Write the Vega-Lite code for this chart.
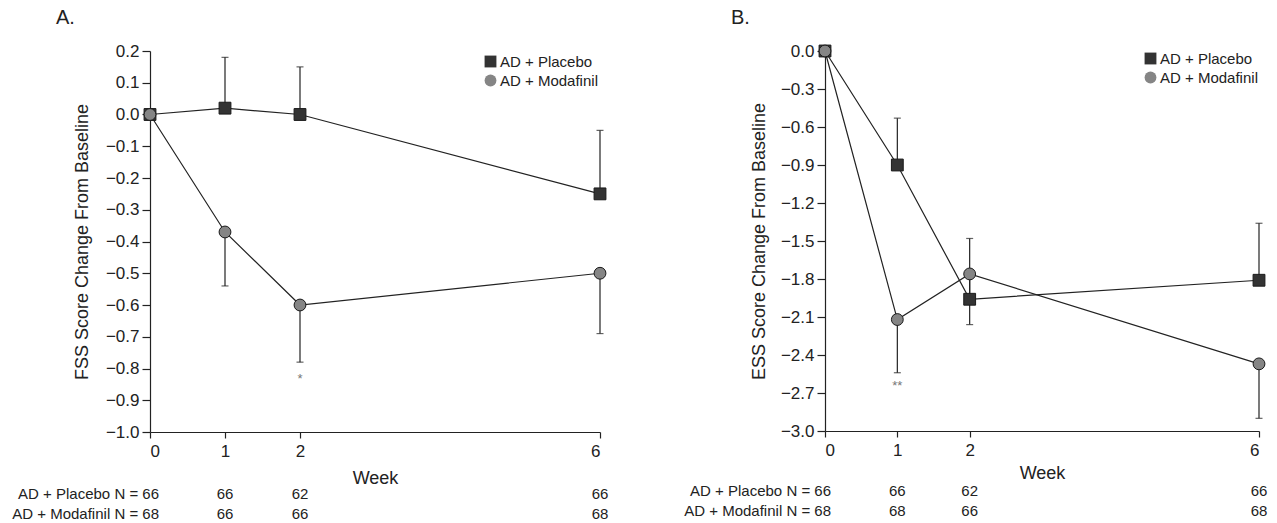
{
  "$schema": "https://vega.github.io/schema/vega-lite/v6.json",
  "padding": {"left": 12, "top": 8, "right": 4, "bottom": 2},
  "config": {
    "font": "Liberation Sans",
    "view": {"stroke": null},
    "axis": {"grid": false, "domainColor": "#222", "tickColor": "#222", "labelColor": "#222", "titleColor": "#222", "labelFontSize": 17, "titleFontSize": 18, "titleFontWeight": "normal", "domainWidth": 1.2, "tickWidth": 1.2, "labelOverlap": false},
    "legend": {"labelFontSize": 15, "labelColor": "#222", "symbolSize": 140, "rowPadding": 2, "labelOffset": 2, "padding": 0, "symbolStrokeColor": "#1a1a1a", "symbolStrokeWidth": 1},
    "title": {"fontSize": 20, "fontWeight": "normal", "color": "#222", "anchor": "start", "frame": "group", "dx": -94, "offset": 14}
  },
  "datasets": {
    "a": [
      {"week": 0, "group": "AD + Placebo", "mean": 0.0, "end": null},
      {"week": 1, "group": "AD + Placebo", "mean": 0.02, "end": 0.18},
      {"week": 2, "group": "AD + Placebo", "mean": 0.0, "end": 0.15},
      {"week": 6, "group": "AD + Placebo", "mean": -0.25, "end": -0.05},
      {"week": 0, "group": "AD + Modafinil", "mean": 0.0, "end": null},
      {"week": 1, "group": "AD + Modafinil", "mean": -0.37, "end": -0.54},
      {"week": 2, "group": "AD + Modafinil", "mean": -0.6, "end": -0.78},
      {"week": 6, "group": "AD + Modafinil", "mean": -0.5, "end": -0.69}
    ],
    "b": [
      {"week": 0, "group": "AD + Placebo", "mean": 0.0, "end": null},
      {"week": 1, "group": "AD + Placebo", "mean": -0.9, "end": -0.53},
      {"week": 2, "group": "AD + Placebo", "mean": -1.96, "end": -1.48},
      {"week": 6, "group": "AD + Placebo", "mean": -1.81, "end": -1.36},
      {"week": 0, "group": "AD + Modafinil", "mean": 0.0, "end": null},
      {"week": 1, "group": "AD + Modafinil", "mean": -2.12, "end": -2.54},
      {"week": 2, "group": "AD + Modafinil", "mean": -1.76, "end": -2.16},
      {"week": 6, "group": "AD + Modafinil", "mean": -2.47, "end": -2.9}
    ],
    "sigA": [{"week": 2, "y": -0.815, "label": "*"}],
    "sigB": [{"week": 1, "y": -2.6, "label": "**"}],
    "nA": [
      {"week": 0, "group": "AD + Placebo", "label": "AD + Placebo N = 66"},
      {"week": 1, "group": "AD + Placebo", "label": "66"},
      {"week": 2, "group": "AD + Placebo", "label": "62"},
      {"week": 6, "group": "AD + Placebo", "label": "66"},
      {"week": 0, "group": "AD + Modafinil", "label": "AD + Modafinil N = 68"},
      {"week": 1, "group": "AD + Modafinil", "label": "66"},
      {"week": 2, "group": "AD + Modafinil", "label": "66"},
      {"week": 6, "group": "AD + Modafinil", "label": "68"}
    ],
    "nB": [
      {"week": 0, "group": "AD + Placebo", "label": "AD + Placebo N = 66"},
      {"week": 1, "group": "AD + Placebo", "label": "66"},
      {"week": 2, "group": "AD + Placebo", "label": "62"},
      {"week": 6, "group": "AD + Placebo", "label": "66"},
      {"week": 0, "group": "AD + Modafinil", "label": "AD + Modafinil N = 68"},
      {"week": 1, "group": "AD + Modafinil", "label": "68"},
      {"week": 2, "group": "AD + Modafinil", "label": "66"},
      {"week": 6, "group": "AD + Modafinil", "label": "68"}
    ]
  },
  "spacing": 75,
  "resolve": {"scale": {"shape": "independent", "fill": "independent"}},
  "hconcat": [
    {
      "spacing": 0,
      "resolve": {"scale": {"x": "independent", "y": "independent"}},
      "vconcat": [
        {
          "title": "A.",
          "width": 450,
          "height": 381,
          "data": {"name": "a"},
          "encoding": {
            "x": {"field": "week", "type": "quantitative", "scale": {"domain": [0, 6], "nice": false, "zero": false}, "axis": {"title": "Week", "values": [0, 1, 2, 6], "format": "d", "tickSize": 6, "labelPadding": 5, "titlePadding": 10}}
          },
          "layer": [
            {
              "mark": {"type": "line", "color": "#222", "strokeWidth": 1.2},
              "encoding": {
                "y": {"field": "mean", "type": "quantitative", "scale": {"domain": [-1, 0.2], "nice": false, "zero": false}, "axis": {"title": "FSS Score Change From Baseline", "values": [0.2, 0.1, 0, -0.1, -0.2, -0.3, -0.4, -0.5, -0.6, -0.7, -0.8, -0.9, -1.0], "format": ".1f", "tickSize": 8, "labelPadding": 3, "titlePadding": 14}},
                "detail": {"field": "group"}
              }
            },
            {
              "transform": [{"filter": "datum.end != null"}],
              "mark": {"type": "rule", "color": "#222", "strokeWidth": 1.2},
              "encoding": {
                "y": {"field": "mean", "type": "quantitative", "axis": {"title": "FSS Score Change From Baseline", "values": [0.2, 0.1, 0, -0.1, -0.2, -0.3, -0.4, -0.5, -0.6, -0.7, -0.8, -0.9, -1.0], "format": ".1f", "tickSize": 8, "labelPadding": 3, "titlePadding": 14}},
                "y2": {"field": "end"}
              }
            },
            {
              "transform": [{"filter": "datum.end != null"}],
              "mark": {"type": "tick", "orient": "horizontal", "color": "#222", "size": 7, "thickness": 1.2},
              "encoding": {"y": {"field": "end", "type": "quantitative", "axis": {"title": "FSS Score Change From Baseline", "values": [0.2, 0.1, 0, -0.1, -0.2, -0.3, -0.4, -0.5, -0.6, -0.7, -0.8, -0.9, -1.0], "format": ".1f", "tickSize": 8, "labelPadding": 3, "titlePadding": 14}}}
            },
            {
              "mark": {"type": "point", "filled": true, "size": 140, "stroke": "#1a1a1a", "strokeWidth": 1, "opacity": 1},
              "encoding": {
                "y": {"field": "mean", "type": "quantitative", "axis": {"title": "FSS Score Change From Baseline", "values": [0.2, 0.1, 0, -0.1, -0.2, -0.3, -0.4, -0.5, -0.6, -0.7, -0.8, -0.9, -1.0], "format": ".1f", "tickSize": 8, "labelPadding": 3, "titlePadding": 14}},
                "shape": {"field": "group", "type": "nominal", "scale": {"domain": ["AD + Placebo", "AD + Modafinil"], "range": ["square", "circle"]}, "legend": {"title": null, "orient": "none", "legendX": 333, "legendY": 3, "labelFontSize": 15}},
                "fill": {"field": "group", "type": "nominal", "scale": {"domain": ["AD + Placebo", "AD + Modafinil"], "range": ["#333333", "#858585"]}, "legend": {"title": null, "orient": "none", "legendX": 333, "legendY": 3, "labelFontSize": 15}}
              }
            },
            {
              "data": {"name": "sigA"},
              "mark": {"type": "text", "fontSize": 13, "color": "#777", "baseline": "top"},
              "encoding": {"y": {"field": "y", "type": "quantitative", "axis": {"title": "FSS Score Change From Baseline", "values": [0.2, 0.1, 0, -0.1, -0.2, -0.3, -0.4, -0.5, -0.6, -0.7, -0.8, -0.9, -1.0], "format": ".1f", "tickSize": 8, "labelPadding": 3, "titlePadding": 14}}, "text": {"field": "label"}}
            }
          ]
        },
        {
          "width": 450,
          "height": 32,
          "data": {"name": "nA"},
          "encoding": {
            "x": {"field": "week", "type": "quantitative", "scale": {"domain": [0, 6], "nice": false, "zero": false}, "axis": null},
            "y": {"field": "group", "type": "nominal", "scale": {"type": "point", "domain": ["AD + Placebo", "AD + Modafinil"], "padding": 0.34}, "axis": null},
            "text": {"field": "label"}
          },
          "layer": [
            {"transform": [{"filter": "datum.week == 0"}], "mark": {"type": "text", "fontSize": 15, "color": "#222", "align": "right", "dx": 9}},
            {"transform": [{"filter": "datum.week != 0"}], "mark": {"type": "text", "fontSize": 15, "color": "#222", "align": "center"}}
          ]
        }
      ]
    },
    {
      "spacing": 2,
      "resolve": {"scale": {"x": "independent", "y": "independent"}},
      "vconcat": [
        {
          "title": "B.",
          "width": 434,
          "height": 380,
          "data": {"name": "b"},
          "encoding": {
            "x": {"field": "week", "type": "quantitative", "scale": {"domain": [0, 6], "nice": false, "zero": false}, "axis": {"title": "Week", "values": [0, 1, 2, 6], "format": "d", "tickSize": 6, "labelPadding": 5, "titlePadding": 6}}
          },
          "layer": [
            {
              "mark": {"type": "line", "color": "#222", "strokeWidth": 1.2},
              "encoding": {
                "y": {"field": "mean", "type": "quantitative", "scale": {"domain": [-3, 0], "nice": false, "zero": false}, "axis": {"title": "ESS Score Change From Baseline", "values": [0, -0.3, -0.6, -0.9, -1.2, -1.5, -1.8, -2.1, -2.4, -2.7, -3.0], "format": ".1f", "tickSize": 8, "labelPadding": 3, "titlePadding": 12}},
                "detail": {"field": "group"}
              }
            },
            {
              "transform": [{"filter": "datum.end != null"}],
              "mark": {"type": "rule", "color": "#222", "strokeWidth": 1.2},
              "encoding": {
                "y": {"field": "mean", "type": "quantitative", "axis": {"title": "ESS Score Change From Baseline", "values": [0, -0.3, -0.6, -0.9, -1.2, -1.5, -1.8, -2.1, -2.4, -2.7, -3.0], "format": ".1f", "tickSize": 8, "labelPadding": 3, "titlePadding": 12}},
                "y2": {"field": "end"}
              }
            },
            {
              "transform": [{"filter": "datum.end != null"}],
              "mark": {"type": "tick", "orient": "horizontal", "color": "#222", "size": 7, "thickness": 1.2},
              "encoding": {"y": {"field": "end", "type": "quantitative", "axis": {"title": "ESS Score Change From Baseline", "values": [0, -0.3, -0.6, -0.9, -1.2, -1.5, -1.8, -2.1, -2.4, -2.7, -3.0], "format": ".1f", "tickSize": 8, "labelPadding": 3, "titlePadding": 12}}}
            },
            {
              "mark": {"type": "point", "filled": true, "size": 140, "stroke": "#1a1a1a", "strokeWidth": 1, "opacity": 1},
              "encoding": {
                "y": {"field": "mean", "type": "quantitative", "axis": {"title": "ESS Score Change From Baseline", "values": [0, -0.3, -0.6, -0.9, -1.2, -1.5, -1.8, -2.1, -2.4, -2.7, -3.0], "format": ".1f", "tickSize": 8, "labelPadding": 3, "titlePadding": 12}},
                "shape": {"field": "group", "type": "nominal", "scale": {"domain": ["AD + Placebo", "AD + Modafinil"], "range": ["square", "circle"]}, "legend": {"title": null, "orient": "none", "legendX": 318, "legendY": 0, "labelFontSize": 15}},
                "fill": {"field": "group", "type": "nominal", "scale": {"domain": ["AD + Placebo", "AD + Modafinil"], "range": ["#333333", "#858585"]}, "legend": {"title": null, "orient": "none", "legendX": 318, "legendY": 0, "labelFontSize": 15}}
              }
            },
            {
              "data": {"name": "sigB"},
              "mark": {"type": "text", "fontSize": 13, "color": "#777", "baseline": "top"},
              "encoding": {"y": {"field": "y", "type": "quantitative", "axis": {"title": "ESS Score Change From Baseline", "values": [0, -0.3, -0.6, -0.9, -1.2, -1.5, -1.8, -2.1, -2.4, -2.7, -3.0], "format": ".1f", "tickSize": 8, "labelPadding": 3, "titlePadding": 12}}, "text": {"field": "label"}}
            }
          ]
        },
        {
          "width": 434,
          "height": 32,
          "data": {"name": "nB"},
          "encoding": {
            "x": {"field": "week", "type": "quantitative", "scale": {"domain": [0, 6], "nice": false, "zero": false}, "axis": null},
            "y": {"field": "group", "type": "nominal", "scale": {"type": "point", "domain": ["AD + Placebo", "AD + Modafinil"], "padding": 0.34}, "axis": null},
            "text": {"field": "label"}
          },
          "layer": [
            {"transform": [{"filter": "datum.week == 0"}], "mark": {"type": "text", "fontSize": 15, "color": "#222", "align": "right", "dx": 6}},
            {"transform": [{"filter": "datum.week != 0"}], "mark": {"type": "text", "fontSize": 15, "color": "#222", "align": "center"}}
          ]
        }
      ]
    }
  ]
}
